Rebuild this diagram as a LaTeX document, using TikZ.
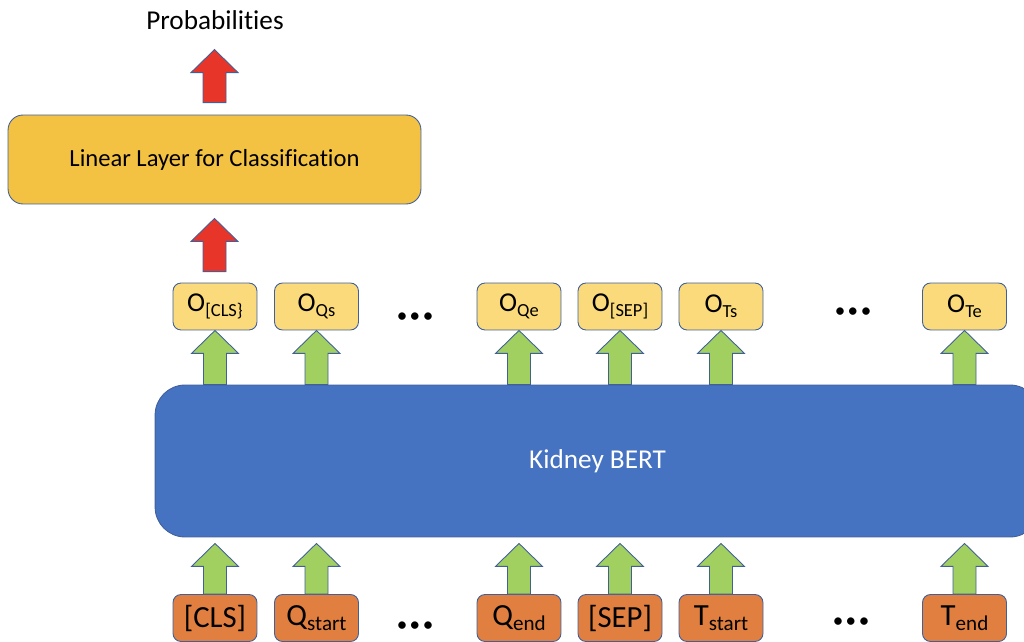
\documentclass[tikz,border=0pt]{standalone}
\usepackage{fontspec}
\setmainfont[Ligatures=NoCommon]{Carlito}
\usetikzlibrary{positioning,calc}
\definecolor{kbblue}{HTML}{4672C2}
\definecolor{kbedge}{HTML}{41609A}
\definecolor{kbgold}{HTML}{F4C243}
\definecolor{kbpale}{HTML}{FADA7A}
\definecolor{kborange}{HTML}{E07F40}
\definecolor{kbgreen}{HTML}{A1CF60}
\definecolor{kbred}{HTML}{E8352A}
% block arrow: fill colour, tail point, tip point
\newcommand{\blockarr}[3]{%
  \path let \p1=(#2), \p2=(#3) in
    [draw=kbedge,line width=0.5pt,fill=#1]
    (\x2-0.23cm,\y1) -- (\x2-0.23cm,\y2-0.46cm) -- (\x2-0.47cm,\y2-0.46cm)
    -- (\x2,\y2) -- (\x2+0.47cm,\y2-0.46cm) -- (\x2+0.23cm,\y2-0.46cm)
    -- (\x2+0.23cm,\y1) -- cycle;
}
\newcommand{\tridots}{\textbullet\hspace{0.05cm}\textbullet\hspace{0.05cm}\textbullet}
\newcommand{\osub}[1]{\raisebox{-3pt}{\fontsize{10.5}{11}\selectfont #1}}
\newcommand{\isub}[1]{\raisebox{-3pt}{\fontsize{12}{13}\selectfont #1}}

\begin{document}
\begin{tikzpicture}[x=0.02cm,y=-0.02cm,font=\fontsize{14}{16}\selectfont,
  tok/.style={draw=kbedge,line width=0.5pt,rounded corners=0.16cm,minimum width=1.68cm,minimum height=0.94cm,inner sep=0pt},
  outbox/.style={tok,fill=kbpale,font=\fontsize{15.5}{17}\selectfont},
  inbox/.style={tok,fill=kborange,font=\fontsize{17.5}{19}\selectfont}]
  \useasboundingbox (0,0) rectangle (1024,642);
  \node[draw=kbedge,line width=0.5pt,fill=kbblue,rounded corners=0.6cm,minimum width=17.7cm,minimum height=3.04cm,text=white,font=\fontsize{15.5}{17}\selectfont] (bert) at (597.5,461) {Kidney BERT};
  \node[draw=kbedge,line width=0.5pt,fill=kbgold,rounded corners=0.3cm,minimum width=8.26cm,minimum height=1.78cm] (lin) at (214.5,159.5) {Linear Layer for Classification};
  \node[font=\fontsize{15.5}{17}\selectfont] (prob) at (215,20) {Probabilities};
  \foreach \x/\nm/\olab/\ilab in {215/cls/{O\osub{[CLS\}}}/{[CLS]},
      316.5/qs/{O\osub{Qs}}/{Q\isub{start}},
      519/qe/{O\osub{Qe}}/{Q\isub{end}},
      620/sep/{O\osub{[SEP]}}/{[SEP]},
      721/ts/{O\osub{Ts}}/{T\isub{start}},
      964.5/te/{O\osub{Te}}/{T\isub{end}}}{
    \node[outbox] (o\nm) at (\x,306.5) {\olab};
    \node[inbox] (t\nm) at (\x,618) {\ilab};
    \blockarr{kbgreen}{bert.north -| o\nm}{o\nm.south}
    \blockarr{kbgreen}{t\nm.north}{$(bert.south -| t\nm)+(0,6)$}
  }
  \node[font=\fontsize{12}{12}\selectfont] (dotsa) at (415,318) {\tridots};
  \node[font=\fontsize{12}{12}\selectfont] (dotsb) at (853,313) {\tridots};
  \node[font=\fontsize{12}{12}\selectfont] (dotsc) at (415,627) {\tridots};
  \node[font=\fontsize{12}{12}\selectfont] (dotsd) at (851,623) {\tridots};
  \blockarr{kbred}{$(ocls.north)+(0,-11)$}{$(lin.south)+(0,14)$}
  \blockarr{kbred}{$(lin.north)+(0,-12)$}{$(lin.north)+(0,-65)$}
\end{tikzpicture}
\end{document}
